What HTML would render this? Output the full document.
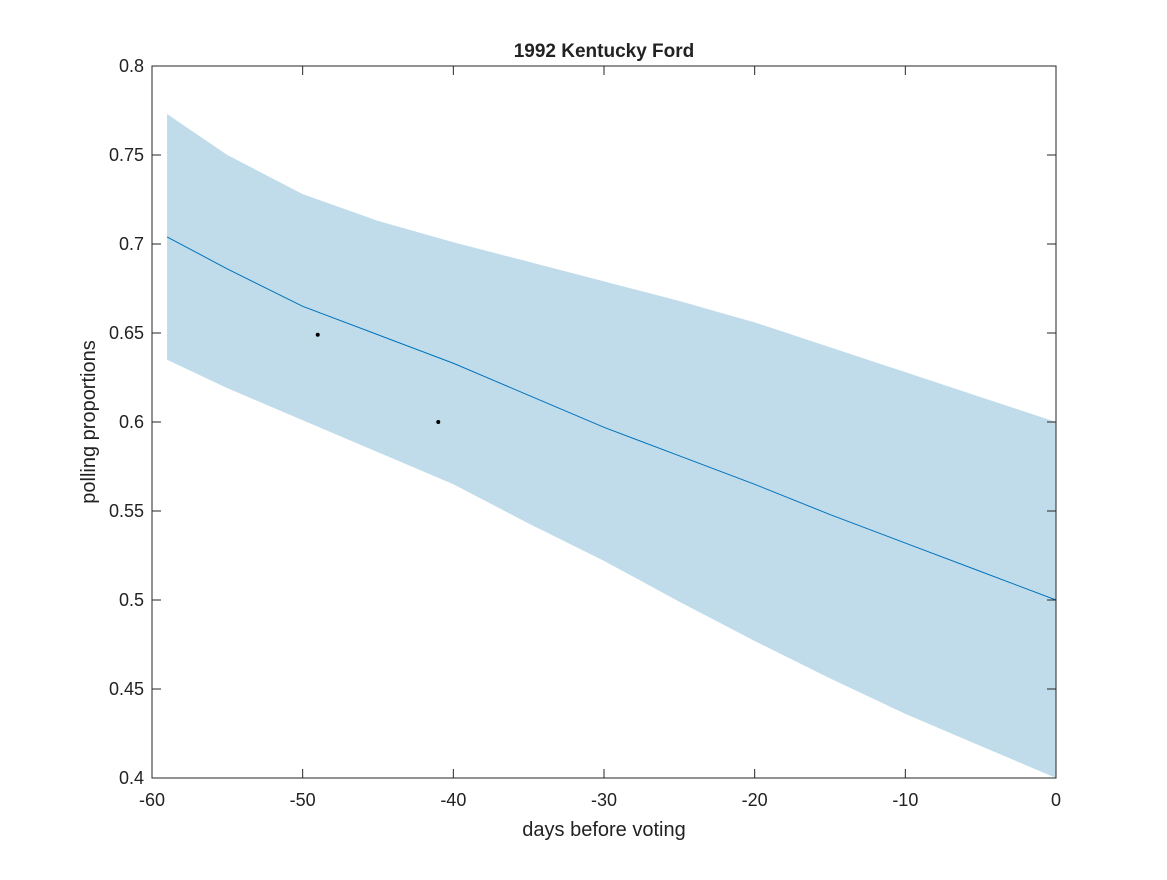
<!DOCTYPE html>
<html><head><meta charset="utf-8"><style>
body{margin:0;background:#fff;}
svg text{font-family:"Liberation Sans",sans-serif;fill:#222;}
</style></head><body>
<svg id="chart" width="1167" height="875" xmlns="http://www.w3.org/2000/svg"></svg>
<script>
const bandX=[-59,-55,-50,-45,-40,-35,-30,-25,-20,-15,-10,-5,0];
const upperVals=[0.773,0.750,0.728,0.713,0.701,0.690,0.679,0.668,0.656,0.642,0.628,0.614,0.600];
const lowerVals=[0.635,0.619,0.601,0.583,0.565,0.543,0.522,0.499,0.477,0.456,0.436,0.418,0.400];
const meanVals=[0.704,0.686,0.665,0.649,0.633,0.615,0.597,0.581,0.565,0.548,0.532,0.516,0.500];
const pointX=[-49,-41];
const pointY=[0.649,0.600];
const xTicks=[-60,-50,-40,-30,-20,-10,0];
const yTicks=[0.4,0.45,0.5,0.55,0.6,0.65,0.7,0.75,0.8];
const L=152,R=1056,T=66,B=778;
const sx=v=>L+(v+60)/60*(R-L);
const sy=v=>B-(v-0.4)/0.4*(B-T);
const svg=document.getElementById('chart');
const NS='http://www.w3.org/2000/svg';
function mk(tag,attrs,parent){const e=document.createElementNS(NS,tag);for(const k in attrs)e.setAttribute(k,attrs[k]);(parent||svg).appendChild(e);return e;}
let d='';
bandX.forEach((x,i)=>{d+=(i?'L':'M')+sx(x)+','+sy(upperVals[i]);});
for(let i=bandX.length-1;i>=0;i--)d+='L'+sx(bandX[i])+','+sy(lowerVals[i]);
const band=mk('path',{d:d+'Z',fill:'#c0dcea'});


const line=mk('polyline',{points:bandX.map((x,i)=>sx(x)+','+sy(meanVals[i])).join(' '),fill:'none',stroke:'#0072bd','stroke-width':1});


pointX.forEach((x,i)=>{const c=mk('circle',{cx:sx(x),cy:sy(pointY[i]),r:2,fill:'#000'});

});
const box=mk('rect',{x:L,y:T,width:R-L,height:B-T,fill:'none',stroke:'#262626','stroke-width':1});


xTicks.forEach(v=>{const x=sx(v);
mk('line',{x1:x,x2:x,y1:B,y2:B-9,stroke:'#262626'});mk('line',{x1:x,x2:x,y1:T,y2:T+9,stroke:'#262626'});
const t=mk('text',{x:x,y:B+28,'text-anchor':'middle','font-size':18});t.textContent=v;

});
yTicks.forEach(v=>{const y=sy(v);
mk('line',{x1:L,x2:L+9,y1:y,y2:y,stroke:'#262626'});mk('line',{x1:R,x2:R-9,y1:y,y2:y,stroke:'#262626'});
const t=mk('text',{x:L-8,y:y+6,'text-anchor':'end','font-size':18});t.textContent=String(v);

});
const xt=mk('text',{x:(L+R)/2,y:836,'text-anchor':'middle','font-size':20});xt.textContent='days before voting';


const yt=mk('text',{x:0,y:0,'text-anchor':'middle','font-size':20,transform:'translate(95,422) rotate(-90)'});yt.textContent='polling proportions';


const tt=mk('text',{x:(L+R)/2,y:57,'text-anchor':'middle','font-size':19,'font-weight':'bold'});tt.textContent='1992 Kentucky Ford';


</script>
</body></html>
